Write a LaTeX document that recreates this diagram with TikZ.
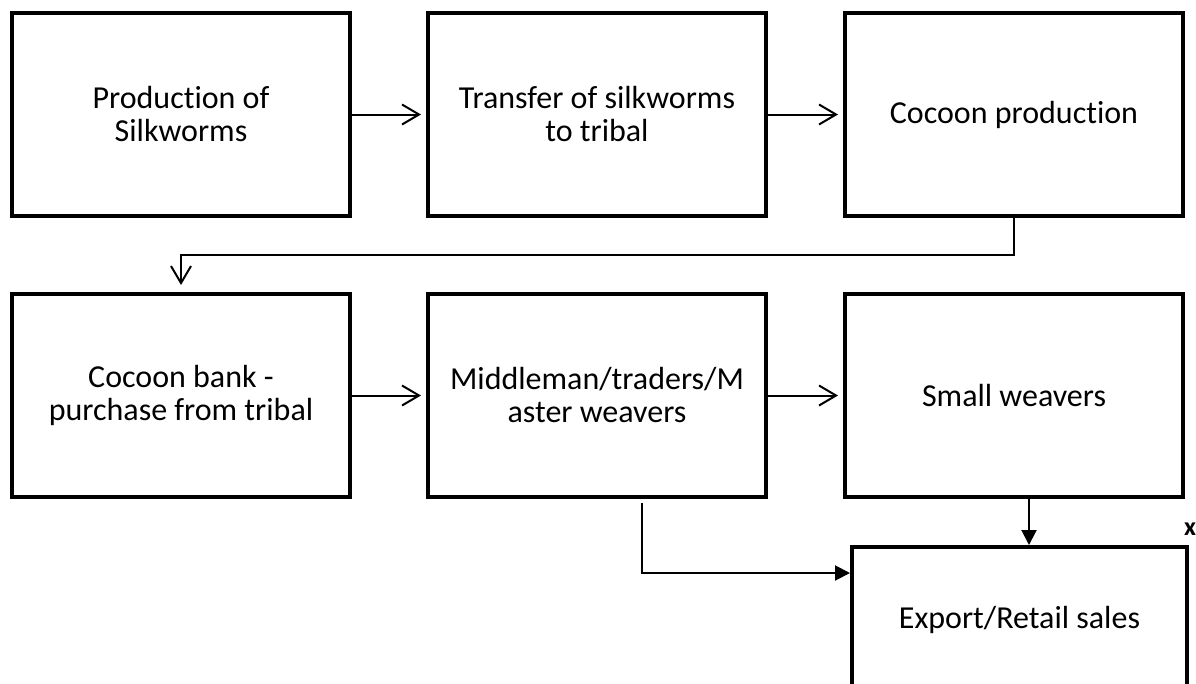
\documentclass[tikz,border=0pt]{standalone}
\usepackage{fontspec}
\setmainfont{Carlito}[Ligatures=NoCommon]
\usetikzlibrary{arrows.meta}

\tikzset{
  stage/.style={draw, line width=4pt, minimum width=338pt, minimum height=203pt,
    align=center, inner sep=0pt, font=\fontsize{32}{33}\selectfont},
  flow/.style={line width=2pt, -{Straight Barb[length=17pt,width=20pt,line width=2pt]}},
  feed/.style={line width=2pt, -{Triangle[length=15pt,width=15pt]}}
}

\begin{document}
\begin{tikzpicture}[x=1pt,y=-1pt]
  \useasboundingbox (0,0) rectangle (1196,683);
  % upper row
  \node[stage] (prod) at (181,114.5) {Production of\\Silkworms};
  \node[stage] (transfer) at (597,114.5) {Transfer of silkworms\\to tribal};
  \node[stage] (cocoon) at (1014,114.5) {Cocoon production};
  % lower row
  \node[stage] (bank) at (181,395.5) {Cocoon bank -\\purchase from tribal};
  \node[stage] (middle) at (597,395.5) {Middleman/traders/M\\aster weavers};
  \node[stage] (small) at (1014,395.5) {Small weavers};
  % sales, runs off the bottom
  \node[stage, minimum width=335pt, minimum height=146pt] (sales) at (1019.5,620) {Export/Retail sales};
  \node[font=\bfseries\fontsize{26}{30}\selectfont] (mark) at (1190,529) {x};

  \draw[flow, shorten >=5pt] (prod) -- (transfer);
  \draw[flow, shorten >=5pt] (transfer) -- (cocoon);
  \draw[flow, shorten >=7pt] (cocoon.south) -- ++(0,37) -| (bank.north);
  \draw[flow, shorten >=5pt] (bank) -- (middle);
  \draw[flow, shorten >=5pt] (middle) -- (small);
  \draw[feed] ([xshift=15pt]small.south) -- ([xshift=15pt]small.south |- sales.north);
  \draw[feed] ([xshift=45pt,yshift=-4pt]middle.south) |- ([yshift=47pt]sales.west);
\end{tikzpicture}
\end{document}
